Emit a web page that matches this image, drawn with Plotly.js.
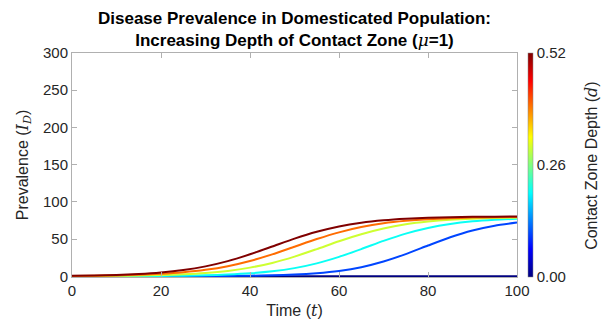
<!DOCTYPE html>
<html>
<head>
<meta charset="utf-8">
<script src="https://cdn.plot.ly/plotly-3.0.1.min.js"></script>
<style>html,body{margin:0;padding:0;background:#fff;}#chart{width:601px;height:321px;}</style>
</head>
<body>
<div id="chart"></div>
<script>
// Time points
var time = [0,5,10,15,20,25,30,35,40,45,50,55,60,65,70,75,80,85,90,95,100];
// Contact zone depths d
var depths = [0, 0.1, 0.2, 0.3, 0.4, 0.52];
// Prevalence I_D for each depth
var prev_d0 = [0,0,0,0,0,0,0,0,0,0,0,0,0,0,0,0,0,0,0,0,0];
var prev_d1 = [0.01,0.01,0.02,0.04,0.07,0.12,0.22,0.4,0.72,1.3,2.3,4.2,7.2,12.2,19.8,29.8,41.3,52.5,61.6,68.0,72.2];
var prev_d2 = [0.05,0.08,0.14,0.25,0.44,0.76,1.33,2.3,3.9,6.6,10.9,17.3,26.1,36.5,47.5,57.3,64.9,70.3,73.8,75.9,77.2];
var prev_d3 = [0.19,0.32,0.55,0.93,1.57,2.64,4.4,7.2,11.6,17.9,26.4,36.5,47.0,56.5,64.2,69.8,73.5,75.9,77.3,78.2,78.7];
var prev_d4 = [0.41,0.69,1.16,1.95,3.24,5.32,8.6,13.5,20.5,29.4,39.7,50.0,59.0,66.1,71.2,74.5,76.7,78.0,78.8,79.3,79.6];
var prev_d5 = [0.63,1.07,1.81,3.05,5.08,8.32,13.3,20.3,29.5,40.0,50.6,59.8,67.0,72.0,75.3,77.4,78.7,79.4,79.9,80.1,80.3];
var series = [prev_d0, prev_d1, prev_d2, prev_d3, prev_d4, prev_d5];
// Colorbar ticks
var cbTickVals = [0, 0.26, 0.52];
var cbTickText = ['0.00', '0.26', '0.52'];
var xTicks = [0,20,40,60,80,100];
var yTicks = [0,50,100,150,200,250,300];

var dMax = 0.52;
function jet(v) {
  function c(x){ return Math.max(0, Math.min(1, x)); }
  var r = c(1.5 - Math.abs(4*v - 3)), g = c(1.5 - Math.abs(4*v - 2)), b = c(1.5 - Math.abs(4*v - 1));
  return 'rgb(' + Math.round(r*255) + ',' + Math.round(g*255) + ',' + Math.round(b*255) + ')';
}
var jetScale = [[0,'rgb(0,0,128)'],[0.125,'rgb(0,0,255)'],[0.375,'rgb(0,255,255)'],[0.625,'rgb(255,255,0)'],[0.875,'rgb(255,0,0)'],[1,'rgb(128,0,0)']];

var fontFam = 'Liberation Sans, Arial';
var txtCol = '#262626';
var mathFont = "font-family:'DejaVu Serif';font-style:italic";
var traces = series.map(function(s, i){
  return {x: time, y: s, type: 'scatter', mode: 'lines', line: {color: jet(depths[i]/dMax), width: 2, shape: 'spline', smoothing: 0.6}, showlegend: false, hoverinfo: 'none'};
});
traces.push({
  x: [null], y: [null], type: 'scatter', mode: 'markers', showlegend: false, hoverinfo: 'none',
  marker: {color: [0], cmin: 0, cmax: dMax, colorscale: jetScale, showscale: true,
    colorbar: {x: 1.0247, xanchor: 'left', xpad: 0, ypad: 0, y: 0.5, yanchor: 'middle', len: 1, lenmode: 'fraction',
      thickness: 5, outlinewidth: 0.5, outlinecolor: '#888', ticks: '', tickvals: cbTickVals, ticktext: cbTickText,
      tickfont: {family: fontFam, size: 15, color: txtCol}}}
});

var axisCommon = {showline: true, linecolor: '#b0b0b0', linewidth: 1, mirror: 'allticks', ticks: 'inside', ticklen: 5, tickcolor: '#b0b0b0',
  showgrid: false, zeroline: false, tickfont: {family: fontFam, size: 15, color: txtCol}};

var layout = {
  width: 601, height: 321,
  margin: {l: 72, r: 84, t: 53, b: 44},
  paper_bgcolor: '#fff', plot_bgcolor: '#fff',
  title: {text: '<b>Disease Prevalence in Domesticated Population:</b><br><b>Increasing Depth of Contact Zone (<span style="' + mathFont + ';font-weight:normal">μ</span>=1)</b>',
    x: 0.5, xref: 'paper', y: 0.925, yref: 'container', yanchor: 'top', font: {family: fontFam, size: 17, color: '#000'}},
  xaxis: Object.assign({}, axisCommon, {range: [0, 100], tickvals: xTicks,
    title: {text: 'Time (<span style="' + mathFont + '">t</span>)', standoff: 6, font: {family: fontFam, size: 16, color: txtCol}}}),
  yaxis: Object.assign({}, axisCommon, {range: [-1, 300], tickvals: yTicks,
    title: {text: 'Prevalence (<span style="' + mathFont + '">I<sub>D</sub></span>)', standoff: 10, font: {family: fontFam, size: 16, color: txtCol}}}),
  annotations: [{text: 'Contact Zone Depth (<span style="' + mathFont + '">d</span>)', xref: 'paper', yref: 'paper',
    x: 1.166, y: 0.5, xanchor: 'center', yanchor: 'middle', textangle: -90, showarrow: false,
    font: {family: fontFam, size: 16, color: txtCol}}]
};
Plotly.newPlot('chart', traces, layout, {displayModeBar: false, staticPlot: true});
</script>
</body>
</html>
